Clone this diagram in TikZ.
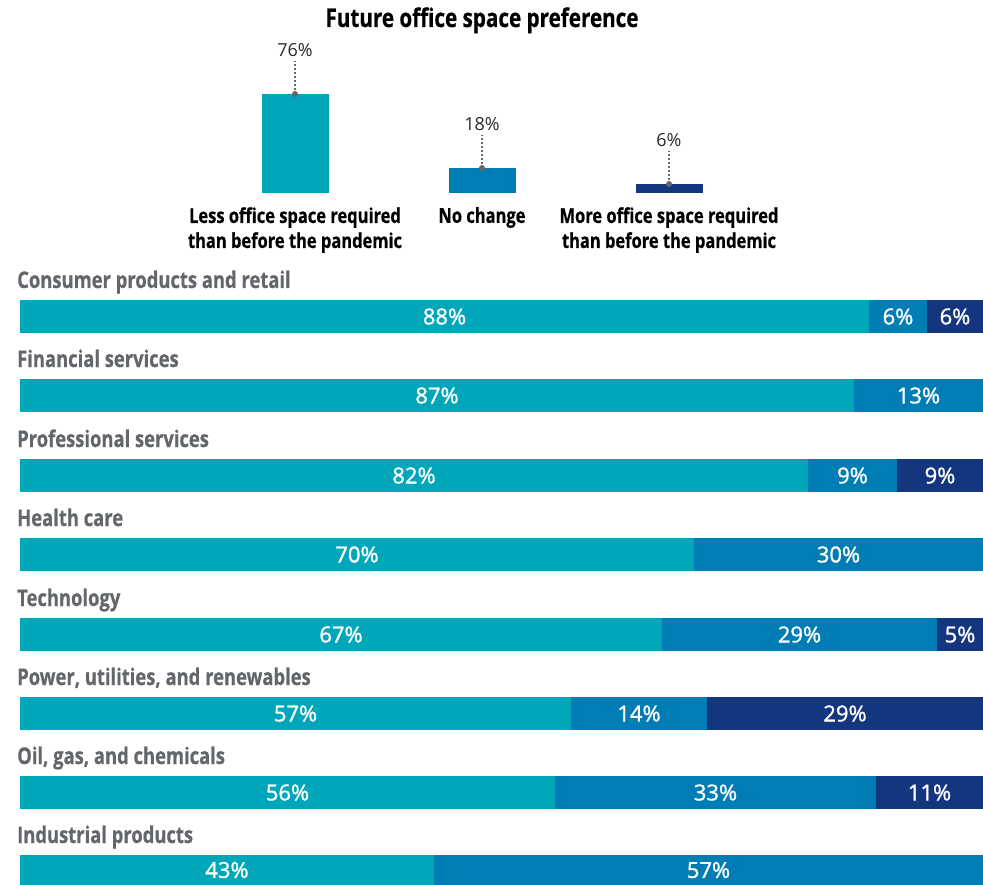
\documentclass[tikz,border=0pt]{standalone}
\usepackage{fontspec}
\setmainfont{Open Sans}
\newfontfamily\narrowfont[FakeStretch=0.80,FakeBold=0.6]{Open Sans}
\newfontfamily\valfont[FakeBold=1.3]{Open Sans}
\usetikzlibrary{positioning}

\definecolor{lesscol}{RGB}{0,167,186}
\definecolor{samecol}{RGB}{0,125,180}
\definecolor{morecol}{RGB}{19,54,126}
\definecolor{labelgray}{RGB}{99,102,106}
\definecolor{valgray}{RGB}{40,40,40}

\tikzset{
    seg/.style={anchor=north west, inner sep=0pt, outer sep=0pt,
        minimum height=33pt, text=white, font=\valfont\fontsize{22}{26}\selectfont},
    sector/.style={anchor=base west, inner sep=0pt, text=labelgray,
        font=\narrowfont\bfseries\fontsize{23}{27}\selectfont},
    topbar/.style={anchor=south, inner sep=0pt, outer sep=0pt, minimum width=67pt},
    topval/.style={inner sep=4pt, text=valgray, font=\fontsize{18}{22}\selectfont},
    choice/.style={inner sep=0pt, align=center,
        font=\narrowfont\bfseries\fontsize{20.6}{25}\selectfont},
    leader/.style={labelgray, line width=1.5pt, dash pattern=on 1.5pt off 2.5pt}
}

\begin{document}
\begin{tikzpicture}[x=1pt,y=-1pt]
    \useasboundingbox (0,0) rectangle (983,885);

    % summary on top
    \node [anchor=base, font=\narrowfont\bfseries\fontsize{25.8}{30}\selectfont]
        (title) at (482,27) {Future office space preference};

    \node [topbar, fill=lesscol, minimum height=99pt] (less) at (295,193) {};
    \node [topbar, fill=samecol, minimum height=25pt] (same) at (482,193) {};
    \node [topbar, fill=morecol, minimum height=9pt] (more) at (669,193) {};

    \node [topval, above=33pt of less.north] (lessval) {76\%};
    \node [topval, above=33pt of same.north] (sameval) {18\%};
    \node [topval, above=33pt of more.north] (moreval) {6\%};

    \draw [leader] (less.north) -- (lessval.south);
    \draw [leader] (same.north) -- (sameval.south);
    \draw [leader] (more.north) -- (moreval.south);
    \fill [labelgray]
        (less.north) circle (3pt)
        (same.north) circle (3pt)
        (more.north) circle (3pt)
    ;

    \node [choice, below=14pt of less.south, anchor=north] (lesstxt)
        {Less office space required\\than before the pandemic};
    \node [choice, below=14pt of same.south, anchor=north] (sametxt) {No change};
    \node [choice, below=14pt of more.south, anchor=north] (moretxt)
        {More office space required\\than before the pandemic};

    % sectors
    \node [sector] (cons) at (17,288) {Consumer products and retail};
    \node [seg, fill=lesscol, minimum width=849pt] (cons1) at (20,300) {88\%};
    \node [seg, fill=samecol, minimum width=58pt, right=0pt of cons1] (cons2) {6\%};
    \node [seg, fill=morecol, minimum width=56pt, right=0pt of cons2] (cons3) {6\%};

    \node [sector] (fin) at (17,367) {Financial services};
    \node [seg, fill=lesscol, minimum width=834pt] (fin1) at (20,379) {87\%};
    \node [seg, fill=samecol, minimum width=129pt, right=0pt of fin1] (fin2) {13\%};

    \node [sector] (prof) at (17,447) {Professional services};
    \node [seg, fill=lesscol, minimum width=788pt] (prof1) at (20,459) {82\%};
    \node [seg, fill=samecol, minimum width=89pt, right=0pt of prof1] (prof2) {9\%};
    \node [seg, fill=morecol, minimum width=86pt, right=0pt of prof2] (prof3) {9\%};

    \node [sector] (health) at (17,526) {Health care};
    \node [seg, fill=lesscol, minimum width=674pt] (health1) at (20,538) {70\%};
    \node [seg, fill=samecol, minimum width=289pt, right=0pt of health1] (health2)
        {30\%\hspace{14pt}};

    \node [sector] (tech) at (17,606) {Technology};
    \node [seg, fill=lesscol, minimum width=642pt] (tech1) at (20,618) {67\%};
    \node [seg, fill=samecol, minimum width=275pt, right=0pt of tech1] (tech2) {29\%};
    \node [seg, fill=morecol, minimum width=46pt, right=0pt of tech2] (tech3) {5\%};

    \node [sector] (power) at (17,685) {Power, utilities, and renewables};
    \node [seg, fill=lesscol, minimum width=551pt] (power1) at (20,697) {57\%};
    \node [seg, fill=samecol, minimum width=136pt, right=0pt of power1] (power2) {14\%};
    \node [seg, fill=morecol, minimum width=276pt, right=0pt of power2] (power3)
        {29\%\hspace{70pt}};

    \node [sector] (oil) at (17,764) {Oil, gas, and chemicals};
    \node [seg, fill=lesscol, minimum width=535pt] (oil1) at (20,776) {56\%};
    \node [seg, fill=samecol, minimum width=321pt, right=0pt of oil1] (oil2) {33\%};
    \node [seg, fill=morecol, minimum width=107pt, right=0pt of oil2] (oil3) {11\%};

    \node [sector] (ind) at (17,843) {Industrial products};
    \node [seg, fill=lesscol, minimum width=414pt, minimum height=30pt] (ind1) at (20,855) {43\%};
    \node [seg, fill=samecol, minimum width=549pt, minimum height=30pt, right=0pt of ind1] (ind2) {57\%};
\end{tikzpicture}
\end{document}
